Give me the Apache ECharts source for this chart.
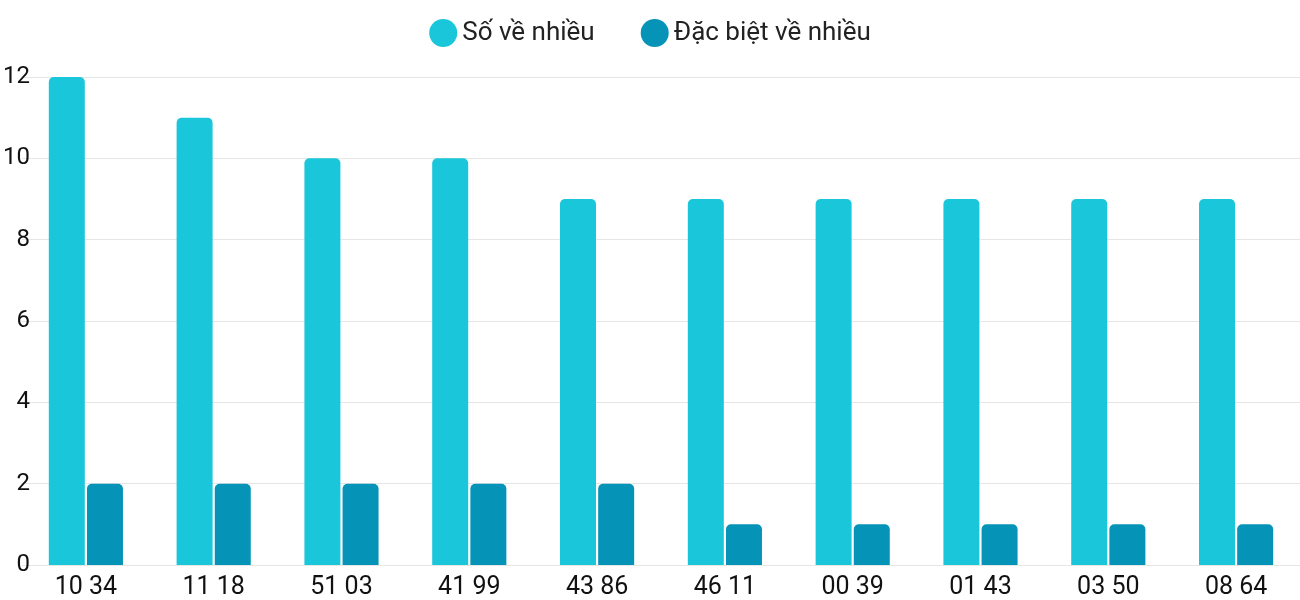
<!DOCTYPE html>
<html>
<head>
<meta charset="utf-8">
<script src="https://cdn.jsdelivr.net/npm/echarts@6/dist/echarts.min.js"></script>
<style>html,body{margin:0;padding:0;background:#fff}#chart{width:1300px;height:600px}</style>
</head>
<body>
<div id="chart"></div>
<script>
var categories = ['10 34', '11 18', '51 03', '41 99', '43 86', '46 11', '00 39', '01 43', '03 50', '08 64'];
var soVeNhieu = [12, 11, 10, 10, 9, 9, 9, 9, 9, 9];
var dacBiet = [2, 2, 2, 2, 2, 1, 1, 1, 1, 1];

var chart = echarts.init(document.getElementById('chart'));
chart.setOption({
    textStyle: { fontFamily: 'Roboto' },
    color: ['#1ac7da', '#0594b7'],
    legend: {
        top: 14,
        left: 'center',
        itemWidth: 28,
        itemHeight: 28,
        itemGap: 46,
        icon: 'circle',
        textStyle: { fontSize: 26, color: '#222' },
        data: ['Số về nhiều', 'Đặc biệt về nhiều']
    },
    grid: { left: 20, width: 1308, top: 77, bottom: 34 },
    xAxis: {
        type: 'category',
        data: categories,
        axisTick: { show: false },
        axisLine: { show: false },
        axisLabel: { fontSize: 25, color: '#111', margin: 10 }
    },
    yAxis: {
        type: 'value',
        min: 0,
        max: 12,
        interval: 2,
        axisLabel: { fontSize: 24, color: '#111', margin: -8 },
        splitLine: { lineStyle: { color: '#e6e6e6' } }
    },
    series: [{
        name: 'Số về nhiều',
        type: 'bar',
        barWidth: 36,
        barGap: '6%',
        itemStyle: { borderRadius: [5, 5, 0, 0] },
        data: soVeNhieu
    }, {
        name: 'Đặc biệt về nhiều',
        type: 'bar',
        barWidth: 36,
        itemStyle: { borderRadius: [5, 5, 0, 0] },
        data: dacBiet
    }]
});
</script>
</body>
</html>
